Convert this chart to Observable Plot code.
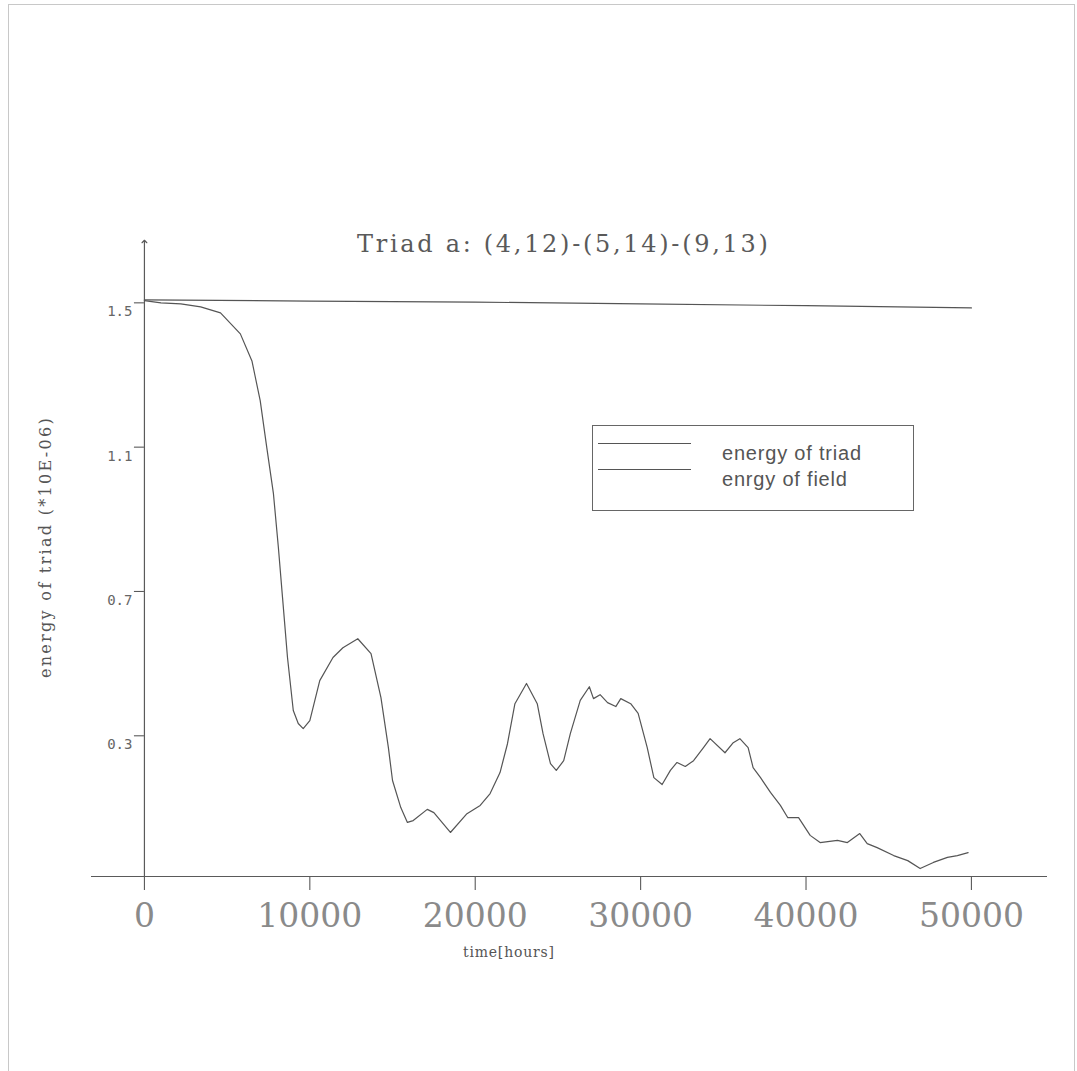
<!DOCTYPE html>
<html>
<head>
<meta charset="utf-8">
<script src="https://cdn.jsdelivr.net/npm/d3@7"></script>
<script src="https://cdn.jsdelivr.net/npm/@observablehq/plot@0.6"></script>
<style>
  html, body { margin: 0; padding: 0; background: #fff; }
  #wrap { position: relative; width: 1077px; height: 1071px; overflow: hidden; }
  #frame { position: absolute; left: 8px; top: 4px; width: 1065px; height: 1100px; border: 1px solid #c8c8c8; }
  #chart { position: absolute; left: 0; top: 0; }
  .ov { position: absolute; color: #555; white-space: nowrap; }
  #title { left: 357px; top: 230px; font: 24px "DejaVu Serif"; letter-spacing: 2.7px; color: #5a5a5a; }
  #xlabel { left: 463px; top: 944px; font: 14px "DejaVu Serif"; letter-spacing: 0.8px; }
  #ylabel { left: 45px; top: 547px; font: 16px "DejaVu Serif"; letter-spacing: 2.3px; transform: translate(-50%, -50%) rotate(-90deg); }
  #legend { position: absolute; left: 592px; top: 425px; width: 320px; height: 84px; border: 1px solid #666; }
  #legend .row { position: absolute; left: 0; width: 320px; height: 26px; }
  #legend .sw { position: absolute; left: 5px; top: 12px; width: 93px; border-top: 1.2px solid #555; }
  #legend .lab { position: absolute; left: 129px; top: 9px; font: 20px "Liberation Sans"; letter-spacing: 0.8px; color: #555; line-height: 26px; }
</style>
</head>
<body>
<div id="wrap">
  <div id="frame"></div>
  <div id="chart"></div>
  <div class="ov" id="title">Triad a: (4,12)-(5,14)-(9,13)</div>
  <div class="ov" id="xlabel">time[hours]</div>
  <div class="ov" id="ylabel">energy of triad (*10E-06)</div>
  <div id="legend"></div>
</div>
<script>
// ---- data ----
const triadTime = [0,1000,2200,3400,4600,5800,6500,7000,7400,7800,8100,8350,8650,9000,9300,9600,10000,10600,11400,12000,12900,13700,14300,14750,15000,15500,15900,16250,17100,17500,18500,19500,20300,20900,21500,21950,22400,23100,23750,24100,24550,24900,25350,25750,26350,26900,27150,27550,28000,28500,28800,29400,29850,30400,30800,31300,31800,32200,32700,33200,33800,34200,35100,35600,36000,36500,36800,37250,37850,38450,38900,39550,40250,40850,41900,42500,43250,43700,44300,45300,46150,46900,47700,48550,49150,49800];
const triadEnergy = [1.506,1.500,1.497,1.489,1.472,1.414,1.339,1.229,1.098,0.971,0.821,0.683,0.517,0.370,0.334,0.320,0.342,0.453,0.517,0.544,0.569,0.528,0.406,0.267,0.176,0.101,0.060,0.065,0.096,0.087,0.032,0.084,0.107,0.140,0.198,0.278,0.389,0.445,0.389,0.306,0.223,0.204,0.231,0.306,0.398,0.436,0.403,0.414,0.392,0.381,0.403,0.389,0.362,0.267,0.184,0.165,0.204,0.226,0.215,0.231,0.267,0.292,0.253,0.281,0.292,0.267,0.212,0.184,0.143,0.107,0.073,0.073,0.024,0.004,0.010,0.004,0.029,0.001,-0.010,-0.032,-0.046,-0.068,-0.051,-0.037,-0.032,-0.024];
const fieldTime = [0,10000,20000,30000,40000,50000];
const fieldEnergy = [1.508,1.505,1.502,1.497,1.492,1.486];
const xTicks = [0,10000,20000,30000,40000,50000];
const yTicks = [0.3,0.7,1.1,1.5];
const xDomain = [-3200, 54600];
const yDomain = [-0.09, 1.67];
const seriesNames = ["energy of triad", "enrgy of field"];

const triad = triadTime.map((t, i) => ({t, e: triadEnergy[i]}));
const field = fieldTime.map((t, i) => ({t, e: fieldEnergy[i]}));
const lineColor = "#555";
const axisColor = "#5a5a5a";

const chart = Plot.plot({
  width: 1077,
  height: 1071,
  marginLeft: 91,
  marginRight: 30,
  marginTop: 241,
  marginBottom: 195,
  style: {background: "transparent"},
  x: {domain: xDomain, axis: null},
  y: {domain: yDomain, axis: null},
  marks: [
    Plot.ruleY([yDomain[0]], {stroke: axisColor, strokeWidth: 1.2}),
    Plot.link([{x: 0, y1: yDomain[0], y2: yDomain[1]}], {x1: "x", x2: "x", y1: "y1", y2: "y2", stroke: axisColor, strokeWidth: 1.2, markerEnd: "arrow"}),
    Plot.ruleX(xTicks, {x: d => d, y1: yDomain[0], y2: yDomain[0], insetBottom: -14, stroke: axisColor, strokeWidth: 1.1}),
    Plot.ruleY(yTicks, {y: d => d, x1: 0, x2: 0, insetLeft: -10, stroke: axisColor, strokeWidth: 1.1}),
    Plot.text(xTicks, {x: d => d, y: yDomain[0], dy: 40, text: d => String(d), fontSize: 33, fontFamily: "DejaVu Serif", fill: "#8a8a8a"}),
    Plot.text(yTicks, {x: 0, y: d => d, dx: -12, dy: 9, text: d => d.toFixed(1), textAnchor: "end", fontSize: 14, fontFamily: "DejaVu Sans Mono", fill: "#666"}),
    Plot.line(field, {x: "t", y: "e", stroke: lineColor, strokeWidth: 1.2}),
    Plot.line(triad, {x: "t", y: "e", stroke: lineColor, strokeWidth: 1.2})
  ]
});
document.getElementById("chart").appendChild(chart);

const legend = document.getElementById("legend");
seriesNames.forEach((name, i) => {
  const row = document.createElement("div");
  row.className = "row";
  row.style.top = (5 + i * 26) + "px";
  row.innerHTML = `<div class="sw"></div><div class="lab">${name}</div>`;
  legend.appendChild(row);
});
</script>
</body>
</html>
